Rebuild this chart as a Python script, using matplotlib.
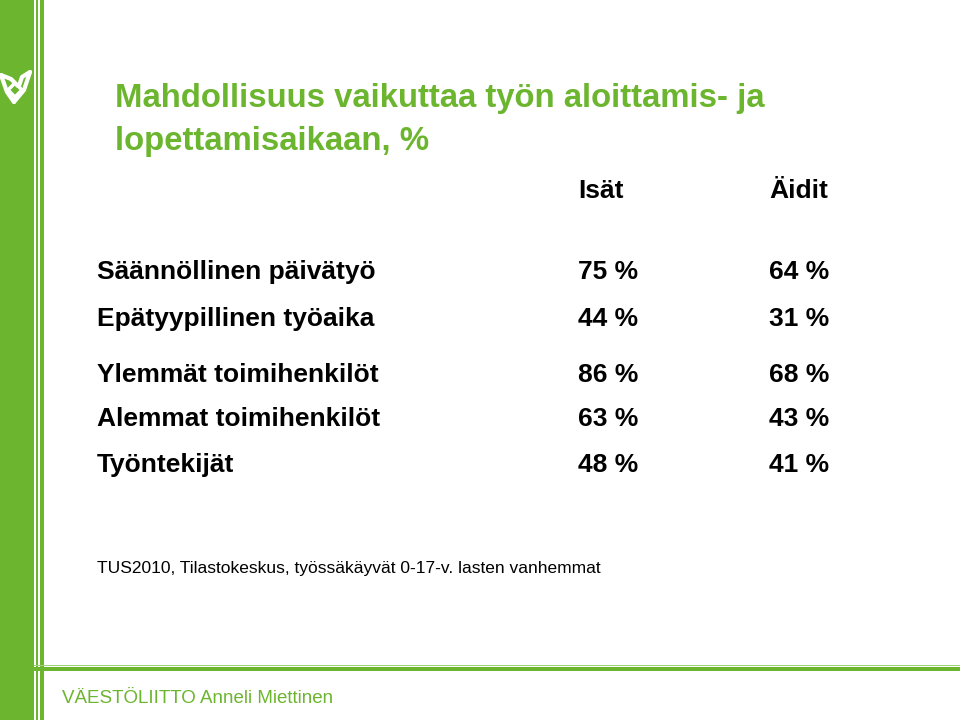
import matplotlib.pyplot as plt
from matplotlib.patches import Rectangle, Polygon

# table data
categories = ["Säännöllinen päivätyö", "Epätyypillinen työaika",
              "Ylemmät toimihenkilöt", "Alemmat toimihenkilöt", "Työntekijät"]
col_labels = ["Isät", "Äidit"]
isat = [75, 44, 86, 63, 48]
aidit = [64, 31, 68, 43, 41]

title = "Mahdollisuus vaikuttaa työn aloittamis- ja\nlopettamisaikaan, %"
source = "TUS2010, Tilastokeskus, työssäkäyvät 0-17-v. lasten vanhemmat"
footer = "VÄESTÖLIITTO Anneli Miettinen"

GREEN = "#6cb52f"
plt.rcParams['font.family'] = ['Liberation Sans', 'DejaVu Sans']

fig = plt.figure(figsize=(9.6, 7.2), dpi=100)
ax = fig.add_axes([0, 0, 1, 1])
ax.set_xlim(0, 960)
ax.set_ylim(720, 0)
ax.axis("off")

# left band + thin lines
ax.add_patch(Rectangle((0, 0), 34, 720, color=GREEN, lw=0))
ax.add_patch(Rectangle((36, 0), 2, 720, color=GREEN, lw=0))
ax.add_patch(Rectangle((40, 0), 4, 720, color=GREEN, lw=0))
# bottom horizontal lines
ax.add_patch(Rectangle((34, 664.5), 926, 1.5, color="#9fd07a", lw=0))
ax.add_patch(Rectangle((34, 667), 926, 3.5, color=GREEN, lw=0))

# rough logo
kw = dict(color="white", lw=3, solid_capstyle="round", solid_joinstyle="round")
ax.plot([1, 7, 14], [75, 92, 102], **kw)
ax.plot([1, 11, 18], [75, 79, 86], **kw)
ax.plot([30, 24, 14], [72, 90, 102], **kw)
ax.plot([30, 22, 19], [72, 77, 86], **kw)
ax.add_patch(Polygon([[15, 83], [22, 90], [15, 97], [8, 90]], closed=True,
                     fc="none", ec="white", lw=2.5))

# title
ax.text(115, 107, title.split("\n")[0], color=GREEN, fontsize=23.7,
        fontweight="bold", va="baseline")
ax.text(115, 150, title.split("\n")[1], color=GREEN, fontsize=23.7,
        fontweight="bold", va="baseline")

fs = 19
col_x = [578, 769]
ax.text(col_x[0], 198, col_labels[0], fontsize=fs, fontweight="bold", va="baseline")
ax.text(col_x[1], 198, col_labels[1], fontsize=fs, fontweight="bold", va="baseline")

row_y = [279, 326, 382, 426, 472]
for cat, a, b, y in zip(categories, isat, aidit, row_y):
    ax.text(97, y, cat, fontsize=fs, fontweight="bold", va="baseline")
    ax.text(col_x[0], y, f"{a} %", fontsize=fs, fontweight="bold", va="baseline")
    ax.text(col_x[1], y, f"{b} %", fontsize=fs, fontweight="bold", va="baseline")

ax.text(97, 573, source, fontsize=12.5, va="baseline")
ax.text(62, 703, footer, color=GREEN, fontsize=13.5, va="baseline")

fig.savefig("out.png", dpi=100)
